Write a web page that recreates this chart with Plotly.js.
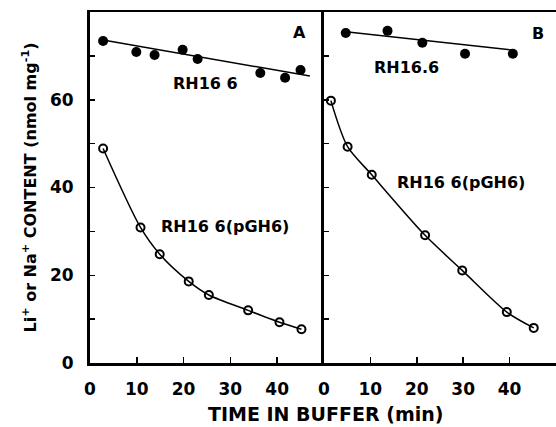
<!DOCTYPE html>
<html>
<head>
<meta charset="utf-8">
<script src="https://cdn.plot.ly/plotly-3.0.1.min.js"></script>
<style>html,body{margin:0;padding:0;background:#fff;}#chart{width:556px;height:427px;}</style>
</head>
<body>
<div id="chart"></div>
<script>
// Panel A
const aFilledX = [2.8, 9.9, 13.8, 19.8, 23.0, 36.4, 41.7, 45.0];
const aFilledY = [73.4, 70.9, 70.2, 71.4, 69.3, 66.1, 65.0, 66.8];
const aFitX = [2.8, 47.0];
const aFitY = [73.6, 65.4];
const aOpenX = [2.8, 10.8, 14.9, 21.1, 25.4, 33.8, 40.5, 45.2];
const aOpenY = [48.9, 30.9, 24.8, 18.6, 15.5, 12.0, 9.3, 7.7];
// Panel B
const bFilledX = [4.7, 13.7, 21.2, 30.4, 40.7];
const bFilledY = [75.2, 75.7, 73.0, 70.5, 70.5];
const bFitX = [4.7, 40.7];
const bFitY = [75.5, 71.3];
const bOpenX = [1.5, 5.1, 10.3, 21.8, 29.8, 39.4, 45.2];
const bOpenY = [59.8, 49.3, 42.9, 29.1, 21.1, 11.6, 8.0];
// Ticks
const xTickVals = [0, 10, 20, 30, 40];
const xTickText = ['0', '10', '20', '30', '40'];
const yTickVals = [0, 10, 20, 30, 40, 50, 60, 70];
const yTickText = ['0', '', '20', '', '40', '', '60', ''];

const FONT = 'DejaVu Sans, Arial, sans-serif';
const filledMarker = {symbol: 'circle', size: 10, color: '#000'};
const openMarker = {symbol: 'circle-open', size: 8, color: '#000', line: {width: 2, color: '#000'}};

const traces = [
  {x: aFitX, y: aFitY, xaxis: 'x', yaxis: 'y', mode: 'lines', line: {color: '#000', width: 1.5}},
  {x: aFilledX, y: aFilledY, xaxis: 'x', yaxis: 'y', mode: 'markers', marker: filledMarker},
  {x: aOpenX, y: aOpenY, xaxis: 'x', yaxis: 'y', mode: 'lines+markers', line: {color: '#000', width: 1.5, shape: 'spline', smoothing: 0.8}, marker: openMarker},
  {x: bFitX, y: bFitY, xaxis: 'x2', yaxis: 'y2', mode: 'lines', line: {color: '#000', width: 1.5}},
  {x: bFilledX, y: bFilledY, xaxis: 'x2', yaxis: 'y2', mode: 'markers', marker: filledMarker},
  {x: bOpenX, y: bOpenY, xaxis: 'x2', yaxis: 'y2', mode: 'lines+markers', line: {color: '#000', width: 1.5, shape: 'spline', smoothing: 0.8}, marker: openMarker}
];

const xCommon = {
  range: [0, 50], tickvals: xTickVals, ticktext: xTickText,
  ticks: 'inside', ticklen: 6, tickwidth: 1.5, tickcolor: '#000',
  showline: true, linecolor: '#000', linewidth: 2.5, mirror: true,
  showgrid: false, zeroline: false, ticklabelstandoff: 9,
  tickfont: {family: FONT, size: 17, color: '#000', weight: 'bold'}
};
const yCommon = {
  range: [0, 80], tickvals: yTickVals, ticktext: yTickText,
  ticks: 'inside', ticklen: 5, tickwidth: 1.5, tickcolor: '#000',
  showline: true, linecolor: '#000', linewidth: 3,
  showgrid: false, zeroline: false,
  tickfont: {family: FONT, size: 17, color: '#000', weight: 'bold'}
};

const annFont = {family: FONT, size: 16, color: '#000', weight: 'bold'};
const layout = {
  width: 556, height: 427,
  margin: {l: 90, r: 0, t: 12, b: 64},
  paper_bgcolor: '#fff', plot_bgcolor: '#fff',
  showlegend: false,
  xaxis: Object.assign({}, xCommon, {domain: [0, 0.502], anchor: 'y'}),
  xaxis2: Object.assign({}, xCommon, {domain: [0.502, 1], anchor: 'y2'}),
  yaxis: Object.assign({}, yCommon, {anchor: 'x', ticklabelstandoff: 10,
    title: {text: 'Li<sup>+</sup> or Na<sup>+</sup> CONTENT (nmol mg<sup>-1</sup>)', font: {family: FONT, size: 16, color: '#000', weight: 'bold'}, standoff: 10}}),
  yaxis2: Object.assign({}, yCommon, {anchor: 'x2', showticklabels: false}),
  annotations: [
    {xref: 'paper', yref: 'paper', x: 0.505, y: -0.145, yanchor: 'middle', xanchor: 'center', showarrow: false,
     text: 'TIME IN BUFFER (min)', font: {family: FONT, size: 19, color: '#000', weight: 'bold'}},
    {xref: 'x', yref: 'y', x: 24.7, y: 63.8, text: 'RH16 6', showarrow: false, font: annFont},
    {xref: 'x', yref: 'y', x: 28.8, y: 31.0, text: 'RH16 6(pGH6)', showarrow: false, font: annFont},
    {xref: 'x', yref: 'y', x: 44.7, y: 75.4, text: 'A', showarrow: false, font: {family: FONT, size: 16, color: '#000', weight: 'bold'}},
    {xref: 'x2', yref: 'y2', x: 17.7, y: 67.4, text: 'RH16.6', showarrow: false, font: annFont},
    {xref: 'x2', yref: 'y2', x: 29.5, y: 41.2, text: 'RH16 6(pGH6)', showarrow: false, font: annFont},
    {xref: 'x2', yref: 'y2', x: 46.1, y: 75.2, text: 'B', showarrow: false, font: {family: FONT, size: 16, color: '#000', weight: 'bold'}}
  ]
};

Plotly.newPlot('chart', traces, layout, {staticPlot: true, displayModeBar: false});
</script>
</body>
</html>
